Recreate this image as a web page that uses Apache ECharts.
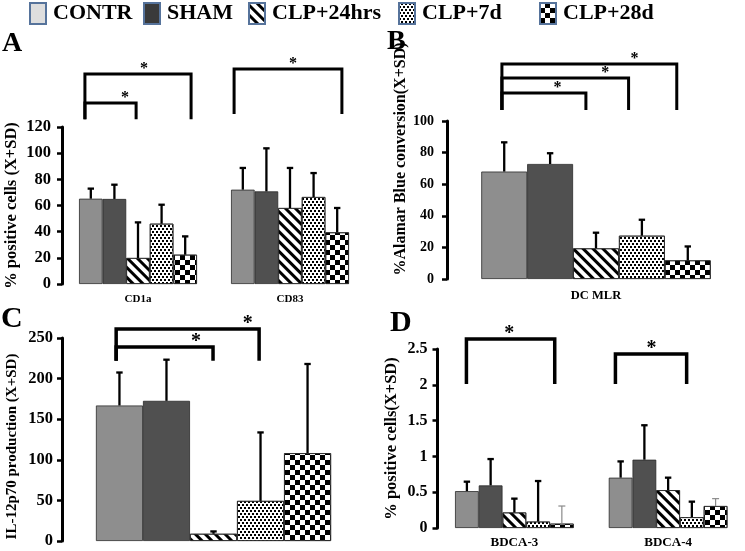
<!DOCTYPE html>
<html><head><meta charset="utf-8">
<script src="https://cdn.jsdelivr.net/npm/echarts@6.0.0/dist/echarts.min.js"></script>
<style>html,body{margin:0;padding:0;background:#fff}#c{width:745px;height:551px}</style>
</head><body><div id="c"></div>
<script>
// ---------- data ----------
const seriesNames = ['CONTR', 'SHAM', 'CLP+24hrs', 'CLP+7d', 'CLP+28d'];

// Panel A
const catA = ['CD1a', 'CD83'];
const meanA  = [[65.2, 72.1], [65.0, 70.8], [19.9, 58.1], [46.1, 66.5], [22.4, 39.5]];
const upperA = [[72.9, 88.7], [75.9, 103.7], [47.1, 88.7], [60.6, 84.8], [36.4, 58.1]];
const ticksA = [0, 20, 40, 60, 80, 100, 120];
// [category, from(bar units), to(bar units), bracket level, foot level, star position]
const bracketsA = [[0, 0.25, 4.75, 160.5, 126, 2.75], [0, 0.25, 2.42, 138.3, 126, 1.95], [1, 0.13, 4.7, 164.3, 130, 2.63]];

// Panel B
const catB = ['DC MLR'];
const meanB  = [[68.0], [72.8], [19.4], [27.4], [11.8]];
const upperB = [[86.5], [79.6], [29.3], [37.5], [20.6]];
const ticksB = [0, 20, 40, 60, 80, 100];
const bracketsB = [[0, 0.45, 2.28, 117.7, 107, 1.66], [0, 0.45, 3.21, 127.2, 107, 2.70], [0, 0.45, 4.26, 136.1, 107, 3.34]];

// Panel C
const catC = [''];
const meanC  = [[166.9], [172.6], [8.9], [49.4], [108.2]];
const upperC = [[207.5], [223.3], [11.8], [133.7], [218.0]];
const ticksC = [0, 50, 100, 150, 200, 250];
const bracketsC = [[0, 0.43, 3.47, 261, 222, 3.23], [0, 0.43, 2.49, 239, 222, 2.13]];

// Panel D
const catD = ['BDCA-3', 'BDCA-4'];
const meanD  = [[0.515, 0.703], [0.595, 0.954], [0.217, 0.529], [0.09, 0.151], [0.061, 0.307]];
const upperD = [[0.647, 0.93], [0.963, 1.435], [0.41, 0.703], [0.656, 0.368], [0.307, 0.41]];
const ticksD = [0, 0.5, 1, 1.5, 2, 2.5];
const bracketsD = [[0, 0.48, 4.2, 2.64, 2.01, 2.28], [1, 0.28, 3.28, 2.43, 2.01, 1.8]];

// ---------- styles ----------
const FONT = 'Liberation Serif';
const barColors = ['#8e8e8e', '#505050', '#ffffff', '#ffffff', '#ffffff'];
const legendColors = ['#dedede', '#3a3a3a', '#ffffff', '#ffffff', '#ffffff'];
const decals = [
  null,
  null,
  { symbol: 'rect', symbolSize: 1, dashArrayX: [1, 0], dashArrayY: [3, 3.5], rotation: Math.PI / 4, color: '#000' },
  { symbol: 'rect', symbolSize: 1, dashArrayX: [[2, 2], [0, 2, 2, 0]], dashArrayY: [2, 0.8], color: '#000' },
  { symbol: 'rect', symbolSize: 1, dashArrayX: [[5, 5], [0, 5, 5, 0]], dashArrayY: [5, 0], color: '#000' }
];

const panels = [
  { cats: catA, mean: meanA, upper: upperA, ticks: ticksA, brackets: bracketsA,
    grid: { left: 62, top: 127, width: 304, height: 157 }, gap: 0.224,
    name: '% positive cells (X+SD)', nameSize: 16.5, nameGap: 42, namePad: 0,
    labelSize: 16.5, labelMargin: 11, catSize: 11, catMargin: 10, starSize: 16, bracketWidth: 3, thinLast: false },
  { cats: catB, mean: meanB, upper: upperB, ticks: ticksB, brackets: bracketsB,
    grid: { left: 447, top: 121, width: 305, height: 158 }, gap: 0.23,
    name: '%Alamar Blue conversion(X+SD)', nameSize: 16, nameGap: 37, namePad: 82,
    labelSize: 14, labelMargin: 13, catSize: 12.5, catMargin: 10, starSize: 16, bracketWidth: 3, thinLast: false },
  { cats: catC, mean: meanC, upper: upperC, ticks: ticksC, brackets: bracketsC,
    grid: { left: 62, top: 338, width: 303, height: 206 }, gap: 0.224,
    name: 'IL-12p70 production (X+SD)', nameSize: 15, nameGap: 42, namePad: -14,
    labelSize: 16.5, labelMargin: 9, catSize: 12, catMargin: 10, starSize: 20, bracketWidth: 3.5, thinLast: false },
  { cats: catD, mean: meanD, upper: upperD, ticks: ticksD, brackets: bracketsD,
    grid: { left: 437.5, top: 349, width: 324, height: 179 }, gap: 0.228,
    name: '% positive cells(X+SD)', nameSize: 16.5, nameGap: 37, namePad: 0,
    labelSize: 16, labelMargin: 10, catSize: 13, catMargin: 8, starSize: 20, bracketWidth: 3.5, thinLast: true }
];

const legendLeft = [29, 143, 248, 398, 539];

// ---------- build ----------
const grids = [], xAxes = [], yAxes = [], series = [];
panels.forEach((p, i) => {
  grids.push(Object.assign({}, p.grid));
  xAxes.push({
    type: 'category', gridIndex: i, data: p.cats,
    axisLine: { show: false }, axisTick: { show: false },
    axisLabel: { fontFamily: FONT, fontWeight: 'bold', fontSize: p.catSize, color: '#000', margin: p.catMargin }
  });
  yAxes.push({
    type: 'value', gridIndex: i, min: p.ticks[0], max: p.ticks[p.ticks.length - 1],
    interval: p.ticks[1] - p.ticks[0],
    splitLine: { show: false },
    axisLine: { show: true, lineStyle: { color: '#000', width: 3 } },
    axisTick: { show: true, length: 5, lineStyle: { color: '#000', width: 2.5 } },
    axisLabel: { fontFamily: FONT, fontWeight: 'bold', fontSize: p.labelSize, color: '#000', margin: p.labelMargin },
    name: p.name, nameLocation: 'middle', nameRotate: 90, nameGap: p.nameGap,
    nameTextStyle: { fontFamily: FONT, fontWeight: 'bold', fontSize: p.nameSize, color: '#000',
      padding: [0, Math.max(0, -p.namePad), 0, Math.max(0, p.namePad)] }
  });
  const gapPct = (p.gap * 100).toFixed(2) + '%';
  seriesNames.forEach((nm, k) => {
    series.push({
      type: 'bar', name: nm, xAxisIndex: i, yAxisIndex: i, data: p.mean[k],
      barGap: '0%', barCategoryGap: gapPct,
      itemStyle: { color: barColors[k], borderColor: '#2a2a2a', borderWidth: 0.8, decal: decals[k] || undefined },
      emphasis: { disabled: true }, silent: true
    });
  });
  const n = seriesNames.length;
  // error bars
  const errData = [];
  seriesNames.forEach((nm, k) => {
    p.cats.forEach((c, ci) => errData.push([ci, k, p.mean[k][ci], p.upper[k][ci]]));
  });
  series.push({
    type: 'custom', name: 'err' + i, xAxisIndex: i, yAxisIndex: i, data: errData, clip: false, z: 5, silent: true,
    renderItem: (params, api) => {
      const ci = api.value(0), k = api.value(1);
      const b = api.coord([ci, api.value(2)]);
      const t = api.coord([ci, api.value(3)]);
      const bw = api.size([1, 0])[0] * (1 - p.gap) / n;
      const x = b[0] - n * bw / 2 + (k + 0.5) * bw;
      const thin = p.thinLast && k === n - 1;
      const st = { stroke: thin ? '#8a8a8a' : '#000', lineWidth: thin ? 1.2 : 2.3 };
      const cap = thin ? 3.5 : 3.2;
      return { type: 'group', children: [
        { type: 'line', shape: { x1: x, y1: b[1], x2: x, y2: t[1] }, style: st },
        { type: 'line', shape: { x1: x - cap, y1: t[1], x2: x + cap, y2: t[1] }, style: st }
      ] };
    }
  });
  // significance brackets
  series.push({
    type: 'custom', name: 'sig' + i, xAxisIndex: i, yAxisIndex: i, data: p.brackets, clip: false, z: 5, silent: true,
    renderItem: (params, api) => {
      const ci = api.value(0);
      const lv = api.coord([ci, api.value(3)]);
      const ft = api.coord([ci, api.value(4)]);
      const bw = api.size([1, 0])[0] * (1 - p.gap) / n;
      const g0 = lv[0] - n * bw / 2;
      const x1 = g0 + api.value(1) * bw, x2 = g0 + api.value(2) * bw;
      const xs = g0 + api.value(5) * bw;
      return { type: 'group', children: [
        { type: 'polyline', shape: { points: [[x1, ft[1]], [x1, lv[1]], [x2, lv[1]], [x2, ft[1]]] },
          style: { stroke: '#000', lineWidth: p.bracketWidth, fill: null, lineJoin: 'miter' } },
        { type: 'text', style: { x: xs, y: lv[1] - 5, text: '*', align: 'center', verticalAlign: 'middle',
          font: 'bold ' + p.starSize + 'px "' + FONT + '"', fill: '#000' } }
      ] };
    }
  });
});

const legends = seriesNames.map((nm, k) => ({
  data: [{ name: nm, itemStyle: { color: legendColors[k] } }],
  left: legendLeft[k], top: 2, padding: 0, icon: 'rect', itemWidth: 16, itemHeight: 21,
  selectedMode: false,
  itemStyle: { borderColor: '#56739b', borderWidth: 2 },
  textStyle: { fontFamily: FONT, fontWeight: 'bold', fontSize: 22, color: '#000', padding: [0, 0, 0, 2] }
}));

const letters = [['A', 2, 30, 28], ['B', 387, 28, 28], ['C', 1, 304, 30], ['D', 390, 308, 30]];
const graphic = letters.map(l => ({
  type: 'text', left: l[1], top: l[2],
  style: { text: l[0], font: 'bold ' + l[3] + 'px "' + FONT + '"', fill: '#000' }
}));

const chart = echarts.init(document.getElementById('c'), null, { renderer: 'canvas' });
chart.setOption({
  animation: false,
  backgroundColor: '#fff',
  legend: legends,
  grid: grids, xAxis: xAxes, yAxis: yAxes, series: series,
  graphic: graphic
});
</script></body></html>
